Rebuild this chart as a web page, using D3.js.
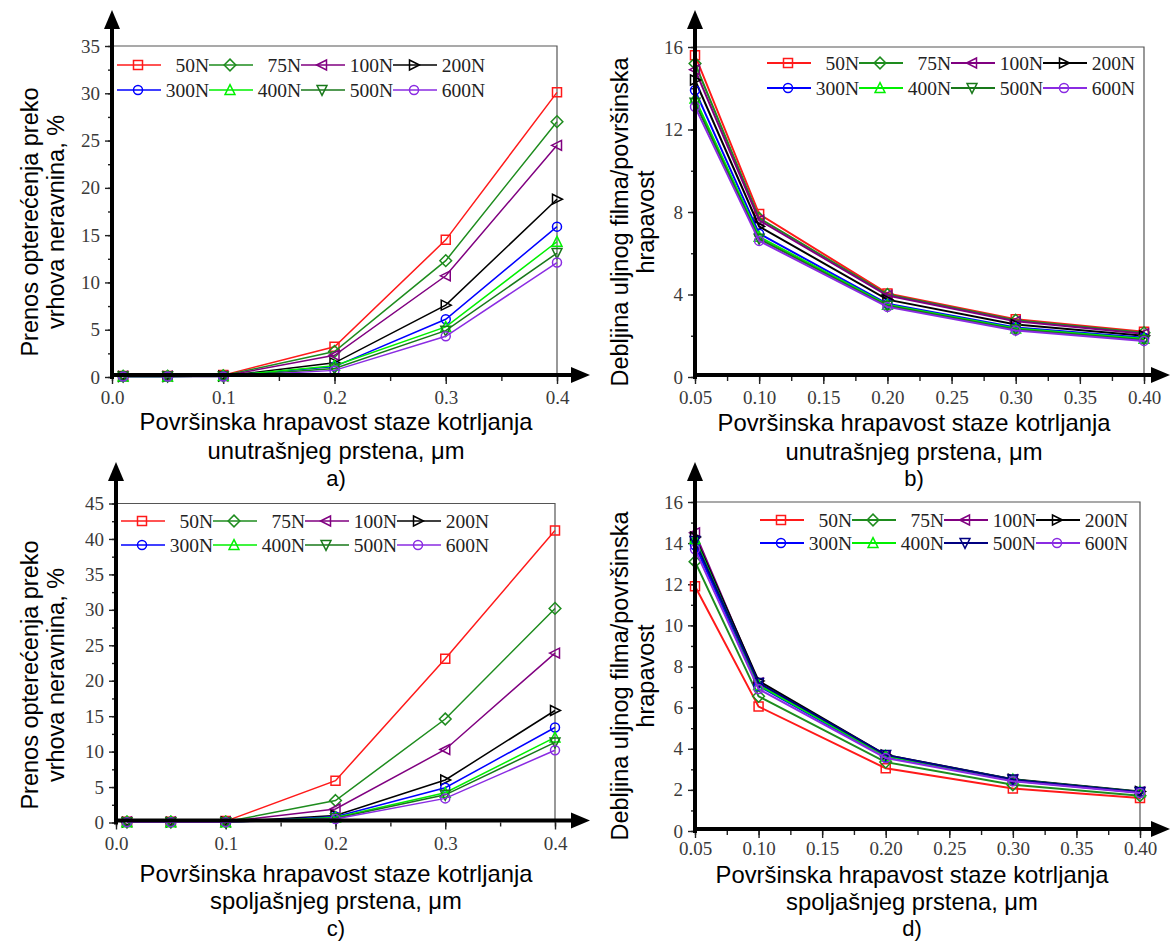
<!DOCTYPE html>
<html>
<head>
<meta charset="utf-8">
<script src="https://cdn.jsdelivr.net/npm/d3@7"></script>
<style>
    body { margin: 0; background: #fff; }
    #chart-container { width: 1170px; height: 941px; }
</style>
</head>
<body>
<div id="chart-container"></div>
<script>
// load names and colours
const loads = ["50N", "75N", "100N", "200N", "300N", "400N", "500N", "600N"];
const symbols = ["square", "diamond", "left", "right", "circle", "up", "down", "circle"];
const colorsGreen = ["#ff1a1a", "#1e8c1e", "#800080", "#000000", "#0000ff", "#00f000", "#18781a", "#8a2be2"];
const colorsNavy = ["#ff1a1a", "#1e8c1e", "#800080", "#000000", "#0000ff", "#00f000", "#000080", "#8a2be2"];

// roughness values on the x axis
const xRoughA = [0.01, 0.05, 0.1, 0.2, 0.3, 0.4];
const xRoughB = [0.05, 0.1, 0.2, 0.3, 0.4];

// a) load share through asperities, inner ring (%)
const valuesA = [
    [0.1, 0.1, 0.2, 3.2, 14.5, 30.1],
    [0.1, 0.1, 0.15, 2.7, 12.3, 27.0],
    [0.1, 0.1, 0.1, 2.3, 10.7, 24.5],
    [0.05, 0.05, 0.1, 1.5, 7.6, 18.8],
    [0.05, 0.05, 0.1, 1.1, 6.1, 15.9],
    [0.05, 0.05, 0.1, 1.2, 5.3, 14.3],
    [0.05, 0.05, 0.05, 0.9, 4.9, 13.1],
    [0.05, 0.05, 0.05, 0.7, 4.3, 12.1]
];

// b) film thickness / roughness, inner ring
const valuesB = [
    [15.6, 7.9, 4.05, 2.8, 2.2],
    [15.2, 7.7, 4.0, 2.75, 2.15],
    [14.9, 7.6, 3.95, 2.7, 2.1],
    [14.4, 7.3, 3.75, 2.55, 2.0],
    [13.9, 6.95, 3.55, 2.4, 1.9],
    [13.5, 6.8, 3.5, 2.35, 1.85],
    [13.3, 6.7, 3.45, 2.3, 1.8],
    [13.1, 6.6, 3.4, 2.25, 1.75]
];

// c) load share through asperities, outer ring (%)
const valuesC = [
    [0.1, 0.1, 0.2, 5.9, 23.1, 41.2],
    [0.1, 0.1, 0.1, 3.1, 14.6, 30.2],
    [0.1, 0.1, 0.1, 1.9, 10.3, 23.9],
    [0.05, 0.05, 0.1, 1.0, 6.0, 15.8],
    [0.05, 0.05, 0.05, 0.8, 4.9, 13.4],
    [0.05, 0.05, 0.05, 0.7, 4.2, 12.0],
    [0.05, 0.05, 0.05, 0.6, 3.9, 11.3],
    [0.05, 0.05, 0.05, 0.5, 3.4, 10.2]
];

// d) film thickness / roughness, outer ring
const valuesD = [
    [11.9, 6.05, 3.05, 2.07, 1.6],
    [13.1, 6.55, 3.35, 2.25, 1.72],
    [14.5, 7.2, 3.65, 2.5, 1.9],
    [14.3, 7.3, 3.7, 2.52, 1.92],
    [13.9, 7.05, 3.6, 2.45, 1.87],
    [14.2, 7.1, 3.65, 2.5, 1.9],
    [14.1, 7.2, 3.7, 2.5, 1.9],
    [13.7, 6.9, 3.55, 2.42, 1.85]
];

// tick labels
const ticksXA = [0, 0.1, 0.2, 0.3, 0.4];
const ticksXB = [0.05, 0.10, 0.15, 0.20, 0.25, 0.30, 0.35, 0.40];
const ticksYA = [0, 5, 10, 15, 20, 25, 30, 35];
const ticksYB = [0, 4, 8, 12, 16];
const ticksYC = [0, 5, 10, 15, 20, 25, 30, 35, 40, 45];
const ticksYD = [0, 2, 4, 6, 8, 10, 12, 14, 16];

const titleLoad = ["Prenos opterećenja preko", "vrhova neravnina, %"];
const titleFilm = ["Debljina uljnog filma/površinska", "hrapavost"];
const titleInner = ["Površinska hrapavost staze kotrljanja", "unutrašnjeg prstena, μm"];
const titleOuter = ["Površinska hrapavost staze kotrljanja", "spoljašnjeg prstena, μm"];

const SERIF = "Liberation Serif";
const SANS = "Liberation Sans";

function markerPath(type, s) {
    if (type == "square") return `M${-s},${-s}H${s}V${s}H${-s}Z`;
    if (type == "diamond") return `M0,${-s * 1.3}L${s * 1.3},0L0,${s * 1.3}L${-s * 1.3},0Z`;
    if (type == "left") return `M${-s * 1.2},0L${s},${-s * 1.1}L${s},${s * 1.1}Z`;
    if (type == "right") return `M${s * 1.2},0L${-s},${-s * 1.1}L${-s},${s * 1.1}Z`;
    if (type == "up") return `M0,${-s * 1.2}L${s * 1.1},${s}L${-s * 1.1},${s}Z`;
    if (type == "down") return `M0,${s * 1.2}L${s * 1.1},${-s}L${-s * 1.1},${-s}Z`;
    return d3.symbol(d3.symbolCircle, Math.PI * s * s)();
}

function styleTicks(a) {
    // replace d3's default font settings on the axis group
    a.attr("font-family", SERIF).attr("font-size", 19);
    a.select(".domain").remove();
    a.selectAll("line").attr("stroke", "#222").attr("stroke-width", 1.4);
    a.selectAll("text").attr("fill", "#3a3a3a");
}

function drawPanel(svg, p) {
    var x = d3.scaleLinear().domain(p.xDomain).range([p.left, p.right]);
    var y = d3.scaleLinear().domain(p.yDomain).range([p.bottom, p.top]);
    var g = svg.append("g");

    // frame top and right (thin)
    g.append("path")
        .attr("d", `M${p.left},${p.top}H${p.right}V${p.bottom}`)
        .attr("fill", "none").attr("stroke", "#555").attr("stroke-width", 1.2);

    // minor ticks
    g.append("g").attr("transform", `translate(0,${p.bottom})`)
        .call(d3.axisBottom(x).tickValues(d3.range(p.xDomain[0], p.xDomain[1] + 1e-9, p.xMinor)).tickSize(4).tickFormat(""))
        .call(styleTicks);
    g.append("g").attr("transform", `translate(${p.left},0)`)
        .call(d3.axisLeft(y).tickValues(d3.range(p.yDomain[0], p.yDomain[1] + 1e-9, p.yMinor)).tickSize(4).tickFormat(""))
        .call(styleTicks);

    // major ticks with labels
    g.append("g").attr("transform", `translate(0,${p.bottom})`)
        .call(d3.axisBottom(x).tickValues(p.xTicks).tickSize(7).tickPadding(p.xPad).tickFormat(d3.format(p.xFormat)))
        .call(styleTicks);
    g.append("g").attr("transform", `translate(${p.left},0)`)
        .call(d3.axisLeft(y).tickValues(p.yTicks).tickSize(7).tickPadding(5))
        .call(styleTicks);

    // series lines and markers
    var line = d3.line().x((d, i) => x(p.xs[i])).y(d => y(d));
    p.values.forEach((vals, k) => {
        g.append("path")
            .datum(vals)
            .attr("d", line)
            .attr("fill", "none")
            .attr("stroke", p.colors[k])
            .attr("stroke-width", p.lineWidth);
        g.selectAll(null)
            .data(vals)
            .enter()
            .append("path")
            .attr("transform", (d, i) => `translate(${x(p.xs[i])},${y(d)})`)
            .attr("d", markerPath(symbols[k], 4.5))
            .attr("fill", "none")
            .attr("stroke", p.colors[k])
            .attr("stroke-width", 1.5);
    });

    // thick axes with arrows
    var axY = y(0) - 2;
    g.append("line").attr("x1", p.left).attr("x2", p.left).attr("y1", p.bottom + 2).attr("y2", p.arrowTop + 14)
        .attr("stroke", "#000").attr("stroke-width", 4);
    g.append("path").attr("d", `M${p.left},${p.arrowTop}l-8,19h16Z`).attr("fill", "#000");
    g.append("line").attr("x1", p.left - 2).attr("x2", p.arrowRight - 14).attr("y1", axY).attr("y2", axY)
        .attr("stroke", "#000").attr("stroke-width", 4);
    g.append("path").attr("d", `M${p.arrowRight},${axY}l-19,-8v16Z`).attr("fill", "#000");

    // legend: 4 columns x 2 rows
    var colW = 92;
    loads.forEach((name, k) => {
        var col = k % 4, row = Math.floor(k / 4);
        var lx = p.legendX + col * colW, ly = p.legendY[row];
        g.append("line").attr("x1", lx).attr("x2", lx + 44).attr("y1", ly).attr("y2", ly)
            .attr("stroke", p.colors[k]).attr("stroke-width", p.legendWidth);
        g.append("path").attr("transform", `translate(${lx + 21},${ly})`)
            .attr("d", markerPath(symbols[k], 4.5))
            .attr("fill", "none").attr("stroke", p.colors[k]).attr("stroke-width", 1.5);
        g.append("text")
            .attr("x", lx + colW).attr("y", ly + 7)
            .attr("text-anchor", "end")
            .attr("fill", "#222")
            .attr("font-family", SERIF).attr("font-size", 19.5)
            .text(name);
    });

    // x axis title and panel letter
    var cx = p.titleCX;
    p.xTitle.forEach((t, i) => {
        g.append("text")
            .attr("x", cx).attr("y", p.xTitleY[i] + 8)
            .attr("text-anchor", "middle")
            .attr("font-family", SANS).attr("font-size", 23.8)
            .text(t);
    });
    g.append("text")
        .attr("x", cx).attr("y", p.xTitleY[2] + 8)
        .attr("text-anchor", "middle")
        .attr("font-family", SANS).attr("font-size", 22)
        .text(p.letter);

    // y axis title (rotated, two lines)
    p.yTitle.forEach((t, i) => {
        g.append("text")
            .attr("transform", `translate(${p.yTitleX[i] + 8},${p.yTitleCY}) rotate(-90)`)
            .attr("text-anchor", "middle")
            .attr("font-family", SANS).attr("font-size", 23.5)
            .text(t);
    });
}

function init() {
    var svg = d3.select("#chart-container").append("svg")
        .attr("width", 1170).attr("height", 941);

    drawPanel(svg, {
        left: 112, right: 557, top: 46, bottom: 377, arrowTop: 10, arrowRight: 590,
        xDomain: [0, 0.4], yDomain: [0, 35], xMinor: 0.05, yMinor: 2.5,
        xTicks: ticksXA, yTicks: ticksYA, xFormat: ".1f", xPad: 7,
        xs: xRoughA, values: valuesA, colors: colorsGreen, lineWidth: 1.5, legendWidth: 1.5,
        legendX: 117, legendY: [65, 90],
        xTitle: titleInner, xTitleY: [422, 451, 478], letter: "a)", titleCX: 336,
        yTitle: titleLoad, yTitleX: [30, 56], yTitleCY: 222
    });

    drawPanel(svg, {
        left: 695, right: 1144, top: 47, bottom: 377, arrowTop: 10, arrowRight: 1170,
        xDomain: [0.05, 0.4], yDomain: [0, 16], xMinor: 0.025, yMinor: 2,
        xTicks: ticksXB, yTicks: ticksYB, xFormat: ".2f", xPad: 7,
        xs: xRoughB, values: valuesB, colors: colorsGreen, lineWidth: 2, legendWidth: 2.2,
        legendX: 767, legendY: [63, 88],
        xTitle: titleInner, xTitleY: [423, 452, 478], letter: "b)", titleCX: 914,
        yTitle: titleFilm, yTitleX: [620, 646], yTitleCY: 222
    });

    drawPanel(svg, {
        left: 116, right: 555, top: 503.5, bottom: 822.5, arrowTop: 462, arrowRight: 590,
        xDomain: [0, 0.4], yDomain: [0, 45], xMinor: 0.05, yMinor: 2.5,
        xTicks: ticksXA, yTicks: ticksYC, xFormat: ".1f", xPad: 7,
        xs: xRoughA, values: valuesC, colors: colorsGreen, lineWidth: 1.5, legendWidth: 1.5,
        legendX: 121, legendY: [521, 545],
        xTitle: titleOuter, xTitleY: [874, 901, 928], letter: "c)", titleCX: 336,
        yTitle: titleLoad, yTitleX: [30, 56], yTitleCY: 675
    });

    drawPanel(svg, {
        left: 695, right: 1140, top: 502, bottom: 831, arrowTop: 462, arrowRight: 1170,
        xDomain: [0.05, 0.4], yDomain: [0, 16], xMinor: 0.025, yMinor: 1,
        xTicks: ticksXB, yTicks: ticksYD, xFormat: ".2f", xPad: 4,
        xs: xRoughB, values: valuesD, colors: colorsNavy, lineWidth: 2, legendWidth: 2.2,
        legendX: 760, legendY: [520, 543],
        xTitle: titleOuter, xTitleY: [875, 902, 928], letter: "d)", titleCX: 912,
        yTitle: titleFilm, yTitleX: [620, 646], yTitleCY: 676
    });
}

init();
</script>
</body>
</html>
